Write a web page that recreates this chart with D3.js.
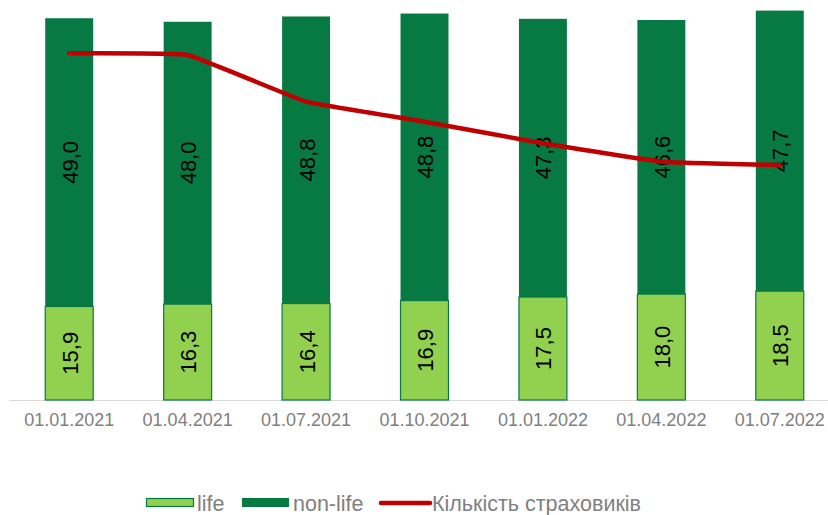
<!DOCTYPE html>
<html><head><meta charset="utf-8">
<script src="https://cdn.jsdelivr.net/npm/d3@7"></script>
<style>body{margin:0;background:#fff}svg{display:block}</style>
</head><body><svg id="c" width="828" height="515"></svg>
<script>
const categories = ["01.01.2021","01.04.2021","01.07.2021","01.10.2021","01.01.2022","01.04.2022","01.07.2022"];
const lifeValues = [15.9,16.3,16.4,16.9,17.5,18.0,18.5];
const nonLifeValues = [49.0,48.0,48.8,48.8,47.3,46.6,47.7];
const insurersCount = [208,207,179,167,154,143,141];
const seriesNames = ["life","non-life","Кількість страховиків"];

const W=828,H=515;
const svg=d3.select("#c");
const font="Liberation Sans, Arial, sans-serif";
const cLife="#92d050", cNon="#077a43", cRed="#c00000", cGrey="#808080";

const x=d3.scaleBand().domain(categories).range([10,839]).paddingInner(0.595).paddingOuter(0.2975);
const y=d3.scaleLinear().domain([0,68]).range([400,0]);
const y2=d3.scaleLinear().domain([0,240]).range([400,0]);

// axis
const ax=svg.append("g").attr("transform","translate(0,400)").call(d3.axisBottom(x).tickSize(0).tickPadding(13));
ax.select(".domain").attr("stroke","#d9d9d9").attr("d","M9.5,0.5H828");
ax.selectAll("text").attr("font-family",font).attr("font-size",18).attr("fill",cGrey);

const data=categories.map((c,i)=>({c,life:lifeValues[i],non:nonLifeValues[i],n:insurersCount[i]}));
const g=svg.append("g");
data.forEach(d=>{
  const x0=x(d.c), bw=x.bandwidth();
  g.append("rect").attr("x",x0).attr("width",bw).attr("y",y(d.life)).attr("height",y(0)-y(d.life))
   .attr("fill",cLife).attr("stroke",cNon).attr("stroke-width",1.2);
  g.append("rect").attr("x",x0).attr("width",bw).attr("y",y(d.life+d.non)).attr("height",y(d.life)-y(d.life+d.non))
   .attr("fill",cNon);
  const cx=x0+bw/2;
  [[d.life,0],[d.non,d.life]].forEach(([v,b])=>{
    const cy=(y(b)+y(b+v))/2;
    g.append("text").attr("transform",`translate(${cx+1},${cy}) rotate(-90)`)
     .attr("text-anchor","middle").attr("dominant-baseline","central")
     .attr("font-family",font).attr("font-size",22).attr("fill","#000")
     .text(v.toFixed(1).replace(".",","));
  });
});

const line=d3.line().x(d=>x(d.c)+x.bandwidth()/2).y(d=>y2(d.n)).curve(d3.curveCardinal.tension(0.75));
svg.append("path").datum(data).attr("d",line).attr("fill","none").attr("stroke",cRed).attr("stroke-width",4.5).attr("stroke-linecap","round");

// legend
const lg=svg.append("g").attr("font-family",font).attr("font-size",21.5).attr("fill",cGrey);
lg.append("rect").attr("x",146.5).attr("y",498.5).attr("width",47).attr("height",8).attr("fill",cLife).attr("stroke",cNon).attr("stroke-width",1.2);
lg.append("text").attr("x",197).attr("y",510.5).text(seriesNames[0]);
lg.append("rect").attr("x",242).attr("y",498).attr("width",47).attr("height",9).attr("fill",cNon);
lg.append("text").attr("x",293).attr("y",510.5).text(seriesNames[1]);
lg.append("line").attr("x1",381).attr("x2",430).attr("y1",503).attr("y2",503).attr("stroke",cRed).attr("stroke-width",4.5).attr("stroke-linecap","round");
lg.append("text").attr("x",432).attr("y",510.5).text(seriesNames[2]);
</script></body></html>
